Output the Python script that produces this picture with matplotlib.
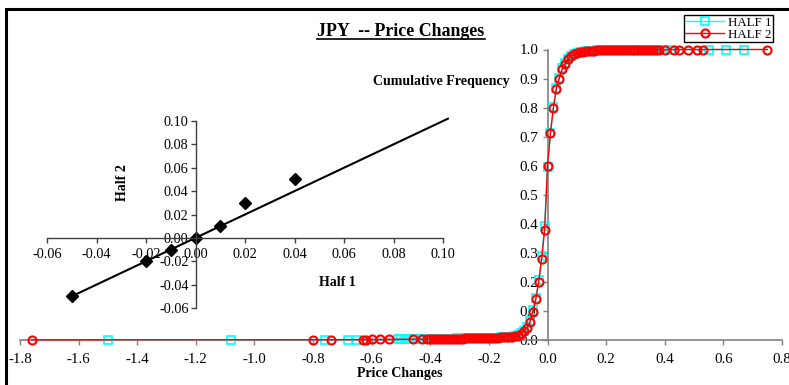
import matplotlib
matplotlib.use("Agg")
import matplotlib.pyplot as plt
from matplotlib.lines import Line2D
from matplotlib.patches import Rectangle

plt.rcParams['font.family'] = 'Liberation Serif'
plt.rcParams['axes.unicode_minus'] = False

# cumulative frequency of price changes, first half of the sample
half1_x = [-1.50, -1.08, -0.76, -0.68, -0.65, -0.51, -0.50, -0.49, -0.48, -0.47,
           -0.45, -0.44, -0.43, -0.42, -0.41, -0.40, -0.39, -0.38, -0.37, -0.36,
           -0.35, -0.34, -0.33, -0.32, -0.31, -0.30, -0.29, -0.28, -0.27, -0.26,
           -0.25, -0.24, -0.23, -0.22, -0.21, -0.20, -0.19, -0.18, -0.17, -0.16,
           -0.15, -0.14, -0.13, -0.12, -0.11,
           -0.10, -0.09, -0.08, -0.07, -0.06, -0.05, -0.04, -0.03, -0.02, -0.01,
           0.00, 0.01, 0.02, 0.03, 0.04, 0.05, 0.06, 0.07, 0.08, 0.09, 0.10,
           0.11, 0.12, 0.13, 0.14, 0.15, 0.16, 0.17, 0.18, 0.19, 0.20,
           0.21, 0.22, 0.23, 0.24, 0.25, 0.26, 0.27, 0.28, 0.29, 0.30,
           0.31, 0.32, 0.33, 0.34, 0.35, 0.36, 0.37, 0.38, 0.39, 0.40,
           0.42, 0.55, 0.61, 0.67]
half1_y = [0.0005, 0.0010, 0.0010, 0.0015, 0.0015, 0.0020, 0.0020, 0.0025, 0.0025, 0.0030,
           0.0030, 0.0030, 0.0035, 0.0035, 0.0035, 0.0040, 0.0040, 0.0040, 0.0045, 0.0045,
           0.0045, 0.0050, 0.0050, 0.0050, 0.0055, 0.0055, 0.0055, 0.0060, 0.0060, 0.0060,
           0.0065, 0.0065, 0.0070, 0.0070, 0.0075, 0.0075, 0.0080, 0.0080, 0.0085, 0.0090,
           0.0095, 0.0100, 0.0110, 0.0120, 0.0140,
           0.017, 0.024, 0.032, 0.045, 0.066, 0.102, 0.145, 0.205, 0.288, 0.392,
           0.595, 0.712, 0.802, 0.866, 0.903, 0.935, 0.954, 0.968, 0.978, 0.985, 0.989,
           0.991, 0.993, 0.994, 0.995, 0.996, 0.9965, 0.997, 0.9972, 0.9975, 0.9978,
           0.998, 0.998, 0.9982, 0.9984, 0.9985, 0.9986, 0.9987, 0.9988, 0.9989, 0.999,
           0.999, 0.9991, 0.9992, 0.9992, 0.9993, 0.9993, 0.9994, 0.9994, 0.9995, 0.9995,
           0.9996, 0.9997, 0.9998, 1.0]

# cumulative frequency of price changes, second half of the sample
half2_x = [-1.76, -0.80, -0.74, -0.63, -0.62, -0.60, -0.57, -0.54, -0.46, -0.43, -0.41,
           -0.40, -0.39, -0.38, -0.37, -0.36, -0.35, -0.34, -0.33, -0.32, -0.31,
           -0.30, -0.29, -0.28, -0.27, -0.26, -0.25, -0.24, -0.23, -0.22, -0.21,
           -0.20, -0.19, -0.18, -0.17, -0.16, -0.15, -0.14, -0.13, -0.12, -0.11,
           -0.10, -0.09, -0.08, -0.07, -0.06, -0.05, -0.04, -0.03, -0.02, -0.01,
           0.00, 0.01, 0.02, 0.03, 0.04, 0.05, 0.06, 0.07, 0.08, 0.09, 0.10,
           0.11, 0.12, 0.13, 0.14, 0.15, 0.16, 0.17, 0.18, 0.19, 0.20,
           0.21, 0.22, 0.23, 0.24, 0.25, 0.26, 0.27, 0.28, 0.29, 0.30,
           0.31, 0.32, 0.33, 0.34, 0.35, 0.36, 0.37, 0.38,
           0.40, 0.43, 0.45, 0.48, 0.51, 0.53, 0.75]
half2_y = [0.0005, 0.0010, 0.0010, 0.0015, 0.0015, 0.0020, 0.0020, 0.0025, 0.0025, 0.0030, 0.0030,
           0.0035, 0.0035, 0.0035, 0.0040, 0.0040, 0.0040, 0.0045, 0.0045, 0.0045, 0.0050,
           0.0050, 0.0050, 0.0055, 0.0055, 0.0055, 0.0060, 0.0060, 0.0065, 0.0065, 0.0070,
           0.0070, 0.0075, 0.0080, 0.0085, 0.0090, 0.0095, 0.0100, 0.0105, 0.0115, 0.0130,
           0.015, 0.022, 0.030, 0.042, 0.062, 0.098, 0.140, 0.200, 0.280, 0.377,
           0.600, 0.713, 0.800, 0.864, 0.900, 0.932, 0.951, 0.966, 0.977, 0.984, 0.988,
           0.990, 0.992, 0.994, 0.995, 0.996, 0.9965, 0.997, 0.9972, 0.9975, 0.9978,
           0.998, 0.998, 0.9982, 0.9984, 0.9985, 0.9986, 0.9987, 0.9988, 0.9989, 0.999,
           0.999, 0.9991, 0.9992, 0.9992, 0.9993, 0.9993, 0.9994, 0.9994,
           0.9995, 0.9996, 0.9997, 0.9998, 0.9999, 1.0, 1.0]

# quantile pairs half 1 vs half 2 and the fitted line
qq_x = [-0.05, -0.02, -0.01, 0.00, 0.01, 0.02, 0.04]
qq_y = [-0.05, -0.02, -0.01, 0.00, 0.01, 0.03, 0.05]
fit_x = [-0.05, 0.102]
fit_y = [-0.05, 0.102]

main_ticks_x = [-1.8, -1.6, -1.4, -1.2, -1.0, -0.8, -0.6, -0.4, -0.2, 0.0, 0.2, 0.4, 0.6, 0.8]
main_ticks_y = [0.0, 0.1, 0.2, 0.3, 0.4, 0.5, 0.6, 0.7, 0.8, 0.9, 1.0]
qq_ticks = [-0.06, -0.04, -0.02, 0.00, 0.02, 0.04, 0.06, 0.08, 0.10]

W, H = 789, 385


def fx(px):
    return px / W


def fy(py):
    return 1 - py / H


fig = plt.figure(figsize=(W / 100, H / 100), dpi=100)

# outer chart border
fig.patches.append(Rectangle((fx(6), -0.5), 2.0, fy(9) + 0.5, transform=fig.transFigure,
                             fill=False, edgecolor='black', linewidth=2.2))

# ---- main cumulative frequency chart ----
ax = fig.add_axes([fx(20), fy(340), fx(782) - fx(20), fy(49.5) - fy(340)])
ax.patch.set_alpha(0)
l1, = ax.plot(half1_x, half1_y, color='#00FFFF', lw=1.0, marker='s', ms=5.5,
              mfc='none', mec='#00FFFF', mew=1.2, clip_on=False, zorder=3)
l2, = ax.plot(half2_x, half2_y, color='#FF0000', lw=1.0, marker='o', ms=5.8,
              mfc='none', mec='#FF0000', mew=1.5, clip_on=False, zorder=4)
ax.set_xlim(-1.8, 0.8)
ax.set_ylim(0, 1)
for side in ['top', 'right']:
    ax.spines[side].set_visible(False)
ax.spines['left'].set_position(('data', 0))
ax.spines['bottom'].set_position(('data', 0))
for side in ['left', 'bottom']:
    ax.spines[side].set_color('#808080')
    ax.spines[side].set_linewidth(1.2)
ax.set_xticks(main_ticks_x)
ax.set_yticks(main_ticks_y)
ax.set_xticklabels(['%.1f' % v for v in main_ticks_x])
ax.set_yticklabels(['%.1f' % v for v in main_ticks_y])
ax.tick_params(axis='x', length=3.5, width=1, color='#808080', pad=6, labelsize=10.8)
ax.tick_params(axis='y', length=3.5, width=1, color='#808080', pad=3, labelsize=10.8)

fig.legend([l1, l2], ['HALF 1', 'HALF 2'], loc='upper right',
           bbox_to_anchor=(fx(773), fy(15)), fontsize=9.3, frameon=True,
           fancybox=False, edgecolor='black', framealpha=1, borderpad=0.12,
           labelspacing=0.02, handlelength=3.0, handletextpad=0.3, borderaxespad=0)

fig.text(fx(441), fy(82), 'Cumulative Frequency', ha='center', va='center',
         fontsize=10, fontweight='bold')
fig.text(fx(400), fy(374), 'Price Changes', ha='center', va='center',
         fontsize=10, fontweight='bold')
title = fig.text(fx(401), fy(36), 'JPY  -- Price Changes', ha='center', va='baseline',
                 fontsize=12.9, fontweight='bold')

# ---- inset: half 1 vs half 2 ----
ins = fig.add_axes([fx(47), fy(308), fx(443) - fx(47), fy(121) - fy(308)])
ins.patch.set_alpha(0)
ins.plot(fit_x, fit_y, color='black', lw=1.5, clip_on=False)
ins.plot(qq_x, qq_y, linestyle='none', marker='D', ms=6.3, color='black', clip_on=False)
ins.set_xlim(-0.06, 0.10)
ins.set_ylim(-0.06, 0.10)
for side in ['top', 'right']:
    ins.spines[side].set_visible(False)
ins.spines['left'].set_position(('data', 0))
ins.spines['bottom'].set_position(('data', 0))
for side in ['left', 'bottom']:
    ins.spines[side].set_color('#404040')
    ins.spines[side].set_linewidth(1.0)
ins.set_xticks(qq_ticks)
ins.set_yticks(qq_ticks)
ins.set_xticklabels(['%.2f' % v for v in qq_ticks])
ins.set_yticklabels(['%.2f' % v for v in qq_ticks])
ins.tick_params(axis='x', length=3.5, width=1, color='#404040', pad=3.5, labelsize=10.3)
ins.tick_params(axis='y', length=3.5, width=1, color='#404040', pad=1.5, labelsize=10.3)

fig.text(fx(123), fy(183), 'Half 2', ha='center', va='center', rotation=90,
         fontsize=10, fontweight='bold')
fig.text(fx(337), fy(282), 'Half 1', ha='center', va='center',
         fontsize=10, fontweight='bold')

# underline the title
fig.canvas.draw()
bb = title.get_window_extent()
fig.add_artist(Line2D([bb.x0 / W, bb.x1 / W], [fy(38.5), fy(38.5)],
                      transform=fig.transFigure, color='black', lw=1.2))

fig.savefig('out.png', dpi=100)
